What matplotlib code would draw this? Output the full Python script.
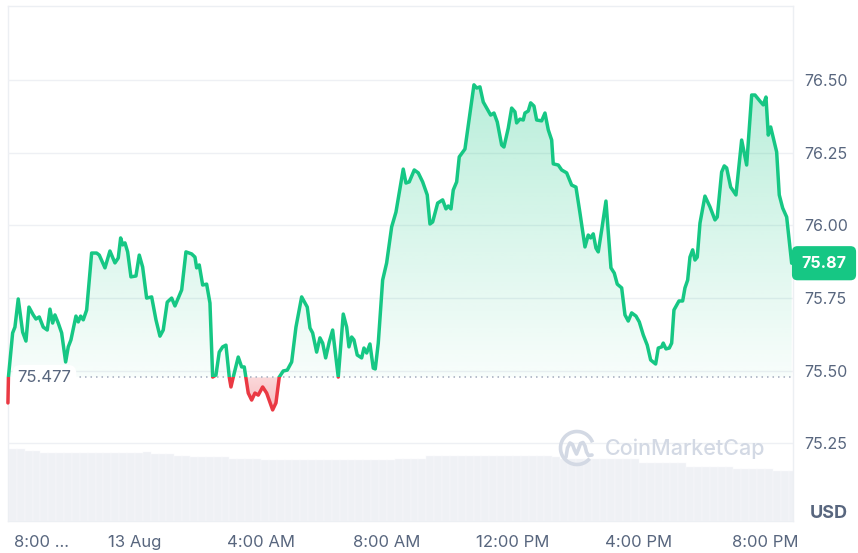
import numpy as np
import matplotlib
matplotlib.use('Agg')
import matplotlib.pyplot as plt
from matplotlib.path import Path
from matplotlib.patches import Rectangle, Arc
import matplotlib.colors as mcolors

plt.rcParams['font.family'] = ['Inter', 'DejaVu Sans']

# ---------------- data ----------------
# time in hours relative to 13 Aug 00:00
times = [-4.032, -4.016, -3.883, -3.810, -3.705, -3.565, -3.460, -3.365, -3.229, -3.143,
         -3.038, -2.911, -2.784, -2.698, -2.613, -2.540, -2.435, -2.327, -2.200, -2.117,
         -2.032, -1.873, -1.800, -1.724, -1.641, -1.533, -1.375, -1.216, -1.133, -0.952,
         -0.794, -0.635, -0.530, -0.454, -0.390, -0.317, -0.232, -0.127, 0.032, 0.137,
         0.244, 0.371, 0.530, 0.667, 0.794, 0.898, 1.025, 1.165, 1.270, 1.483,
         1.619, 1.800, 1.905, 1.959, 2.041, 2.149, 2.276, 2.381, 2.467, 2.571,
         2.676, 2.784, 2.889, 2.994, 3.048, 3.121, 3.279, 3.387, 3.470, 3.524,
         3.597, 3.705, 3.810, 3.914, 4.054, 4.181, 4.371, 4.476, 4.581, 4.708,
         4.835, 4.975, 5.111, 5.292, 5.397, 5.470, 5.556, 5.641, 5.768, 5.873,
         5.959, 6.054, 6.168, 6.276, 6.454, 6.613, 6.721, 6.794, 6.879, 6.952,
         7.057, 7.197, 7.270, 7.356, 7.460, 7.565, 7.629, 7.724, 7.863, 7.990,
         8.149, 8.286, 8.517, 8.603, 8.708, 8.867, 8.994, 9.133, 9.279, 9.365,
         9.451, 9.610, 9.768, 9.873, 9.946, 10.032, 10.105, 10.213, 10.295, 10.476,
         10.635, 10.762, 10.848, 10.952, 11.057, 11.165, 11.292, 11.397, 11.502, 11.641,
         11.714, 11.851, 11.959, 12.063, 12.117, 12.222, 12.327, 12.381, 12.486, 12.562,
         12.667, 12.752, 12.911, 13.016, 13.121, 13.229, 13.279, 13.438, 13.546, 13.705,
         13.863, 14.000, 14.127, 14.286, 14.390, 14.467, 14.549, 14.635, 14.708, 14.816,
         14.952, 15.111, 15.216, 15.311, 15.451, 15.556, 15.660, 15.768, 15.905, 16.010,
         16.137, 16.263, 16.371, 16.530, 16.613, 16.721, 16.771, 16.857, 16.962, 17.038,
         17.111, 17.270, 17.387, 17.460, 17.546, 17.619, 17.705, 17.778, 17.851, 17.937,
         18.095, 18.254, 18.413, 18.486, 18.625, 18.708, 18.784, 18.911, 18.975, 19.079,
         19.260, 19.419, 19.578, 19.683, 19.841, 19.946, 20.032, 20.105, 20.181, 20.371,
         20.454, 20.562, 20.689, 20.848]

prices = [75.389, 75.478, 75.630, 75.650, 75.747, 75.633, 75.602, 75.719, 75.692, 75.678,
          75.685, 75.650, 75.640, 75.712, 75.664, 75.692, 75.664, 75.630, 75.530, 75.582,
          75.606, 75.688, 75.668, 75.688, 75.675, 75.709, 75.905, 75.905, 75.898, 75.854,
          75.912, 75.871, 75.888, 75.957, 75.933, 75.940, 75.909, 75.823, 75.826, 75.898,
          75.857, 75.750, 75.754, 75.675, 75.619, 75.640, 75.736, 75.750, 75.723, 75.778,
          75.909, 75.902, 75.891, 75.854, 75.864, 75.795, 75.798, 75.733, 75.478, 75.485,
          75.564, 75.582, 75.588, 75.478, 75.444, 75.478, 75.547, 75.513, 75.513, 75.475,
          75.423, 75.399, 75.423, 75.416, 75.444, 75.423, 75.365, 75.389, 75.478, 75.499,
          75.502, 75.530, 75.650, 75.754, 75.733, 75.719, 75.647, 75.630, 75.564, 75.613,
          75.595, 75.544, 75.599, 75.640, 75.478, 75.695, 75.650, 75.582, 75.616, 75.606,
          75.554, 75.544, 75.578, 75.561, 75.592, 75.509, 75.506, 75.595, 75.812, 75.871,
          75.995, 76.046, 76.194, 76.146, 76.150, 76.191, 76.181, 76.150, 76.105, 76.005,
          76.012, 76.077, 76.088, 76.057, 76.067, 76.057, 76.122, 76.150, 76.236, 76.263,
          76.387, 76.484, 76.473, 76.477, 76.425, 76.404, 76.380, 76.387, 76.356, 76.277,
          76.270, 76.335, 76.404, 76.391, 76.353, 76.366, 76.363, 76.387, 76.394, 76.422,
          76.411, 76.363, 76.360, 76.387, 76.329, 76.294, 76.212, 76.208, 76.191, 76.181,
          76.139, 76.132, 76.043, 75.926, 75.967, 75.957, 75.971, 75.922, 75.909, 75.984,
          76.084, 75.854, 75.836, 75.798, 75.785, 75.692, 75.671, 75.699, 75.688, 75.668,
          75.623, 75.588, 75.537, 75.523, 75.578, 75.582, 75.595, 75.575, 75.578, 75.595,
          75.709, 75.740, 75.740, 75.785, 75.812, 75.891, 75.916, 75.881, 75.891, 76.008,
          76.101, 76.064, 76.019, 76.029, 76.184, 76.205, 76.198, 76.132, 76.122, 76.105,
          76.294, 76.208, 76.449, 76.449, 76.428, 76.415, 76.442, 76.311, 76.339, 76.253,
          76.105, 76.060, 76.029, 75.870]

base_price = 75.477
last_price = 75.87

# volume bars: one per 15 minutes, starting 12 Aug 20:00 (relative units)
vol_start = -4.0
vol_step = 0.25
volumes = [717, 717, 700, 700, 683, 683, 683, 683, 683, 683,
           683, 683, 683, 683, 683, 683, 683, 690, 670, 670,
           670, 653, 653, 640, 640, 640, 640, 640, 623, 623,
           623, 623, 610, 610, 610, 610, 610, 610, 610, 610,
           610, 610, 610, 610, 610, 610, 610, 610, 610, 623,
           623, 623, 623, 650, 650, 650, 650, 650, 650, 653,
           653, 653, 653, 653, 653, 653, 653, 653, 653, 645,
           617, 617, 617, 617, 617, 617, 617, 617, 617, 617,
           580, 580, 580, 580, 580, 580, 543, 543, 543, 543,
           543, 543, 520, 520, 520, 520, 520, 500, 500, 500]

ytick_vals = [75.25, 75.50, 75.75, 76.00, 76.25, 76.50]
ytick_labels = ['75.25', '75.50', '75.75', '76.00', '76.25', '76.50']
xtick_vals = [0, 4, 8, 12, 16, 20]
xtick_labels = ['13 Aug', '4:00 AM', '8:00 AM', '12:00 PM', '4:00 PM', '8:00 PM']
first_tick_val = -4
first_tick_label = '8:00 ...'

# ---------------- styling ----------------
GREEN = '#16c784'
RED = '#ea3943'
TXT = '#58667e'
GRID = '#eef0f4'
VOLC = '#eff1f5'

W, H = 858, 553
fig = plt.figure(figsize=(W / 100, H / 100), dpi=100)
L, R, B, T = 8, 793, 521, 6
rect = [L / W, 1 - B / H, (R - L) / W, (B - T) / H]

ax_v = fig.add_axes(rect)
ax = fig.add_axes(rect, sharex=ax_v)
ax.patch.set_alpha(0)

t = np.array(times)
p = np.array(prices)
x0, x1 = -4.03, 20.89

# volume
vt = vol_start + vol_step * np.arange(len(volumes))
ax_v.bar(vt, volumes, width=vol_step, align='edge', color=VOLC,
         edgecolor='#f8f9fb', linewidth=0.35, zorder=1)
ax_v.set_ylim(0, max(volumes) * (B - T) / 71.7)
ax_v.set_xlim(x0, x1)
ax_v.set_yticks([])
ax_v.tick_params(axis='x', length=0, labelbottom=False)
for s in ax_v.spines.values():
    s.set_color('#eceff3')
    s.set_linewidth(1.0)

# price axes
ax.set_xlim(x0, x1)
ymin = 75.5 + (370.7 - B) / 290.5
ymax = 75.5 + (370.7 - T) / 290.5
for yv in ytick_vals:
    ax.axhline(yv, color=GRID, lw=1.0, zorder=0)

# gradient fills
n = 256
cov_g = ax.fill_between(t, p, base_price, where=p >= base_price, interpolate=True, color='none')
path_g = Path.make_compound_path(*cov_g.get_paths())
cov_g.remove()
grad = np.zeros((n, 1, 4))
grad[..., :3] = mcolors.to_rgb(GREEN)
grad[:, 0, 3] = np.linspace(0.03, 0.30, n)
im = ax.imshow(grad, extent=[t.min(), t.max(), base_price, p.max()], origin='lower',
               aspect='auto', zorder=1, interpolation='bilinear')
im.set_clip_path(path_g, transform=ax.transData)

cov_r = ax.fill_between(t, p, base_price, where=p <= base_price, interpolate=True, color='none')
path_r = Path.make_compound_path(*cov_r.get_paths())
cov_r.remove()
gradr = np.zeros((n, 1, 4))
gradr[..., :3] = mcolors.to_rgb(RED)
gradr[:, 0, 3] = np.linspace(0.34, 0.20, n)
imr = ax.imshow(gradr, extent=[t.min(), t.max(), p.min(), base_price], origin='lower',
                aspect='auto', zorder=1, interpolation='bilinear')
imr.set_clip_path(path_r, transform=ax.transData)

# baseline
ax.axhline(base_price, color='#a3abbd', lw=1.1, ls=(0, (1, 2.6)), zorder=2)

# line (green above baseline, red below)
lg, = ax.plot(t, p, color=GREEN, lw=2.5, zorder=3, solid_joinstyle='round', solid_capstyle='round')
lg.set_clip_path(Rectangle((x0 - 1, base_price), 40, 5, transform=ax.transData))
lr, = ax.plot(t, p, color=RED, lw=2.5, zorder=3, solid_joinstyle='round', solid_capstyle='round')
lr.set_clip_path(Rectangle((x0 - 1, base_price - 5), 40, 5, transform=ax.transData))

ax.set_ylim(ymin, ymax)

# ticks
ax.yaxis.tick_right()
ax.set_yticks(ytick_vals, ytick_labels)
ax.tick_params(axis='y', length=0, pad=8, labelsize=11.5, labelcolor=TXT)
ax.set_xticks(xtick_vals, xtick_labels)
ax.tick_params(axis='x', length=0, pad=10, labelsize=12, labelcolor=TXT)
for s in ax.spines.values():
    s.set_visible(False)

ax.annotate(first_tick_label, xy=(first_tick_val, 0), xycoords=ax.get_xaxis_transform(),
            xytext=(3.6, -10), textcoords='offset points', ha='left', va='top',
            fontsize=12, color=TXT, annotation_clip=False)

# labels
ax.text(0.012, base_price, '75.477', transform=ax.get_yaxis_transform(), ha='left', va='center',
        fontsize=12, color=TXT, zorder=5,
        bbox=dict(boxstyle='round,pad=0.3,rounding_size=0.5', fc='white', ec='none'))
ax.text(1.0395, last_price, '75.87', transform=ax.get_yaxis_transform(), ha='center', va='center',
        fontsize=11.5, weight='bold', color='white', zorder=6, clip_on=False,
        bbox=dict(boxstyle='round,pad=0.6,rounding_size=0.35', fc=GREEN, ec='none'))
fig.text(829 / W, 1 - 514 / H, 'USD', ha='center', va='center', fontsize=13,
         weight='bold', color=TXT)

# watermark
ax_w = fig.add_axes([0, 0, 1, 1], zorder=10)
ax_w.set_xlim(0, W)
ax_w.set_ylim(H, 0)
ax_w.axis('off')
ax_w.patch.set_alpha(0)
WM = '#d3d9e4'
ax_w.add_patch(Arc((577, 448), 33, 33, theta1=40, theta2=340, lw=2.6, color=WM))
wave_x = [566, 567.5, 570, 572.5, 574.5, 576.5, 578.5, 580.5, 583, 585, 586.5, 588.5, 592]
wave_y = [457, 448, 443, 444.5, 450, 454, 449, 443.5, 442.5, 446, 452, 455.5, 455]
ax_w.plot(wave_x, wave_y, color=WM, lw=2.6, solid_joinstyle='round', solid_capstyle='round')
ax_w.text(605, 449, 'CoinMarketCap', fontsize=15.5, color=WM, va='center', ha='left',
          weight='medium')

fig.savefig('out.png', dpi=100)
